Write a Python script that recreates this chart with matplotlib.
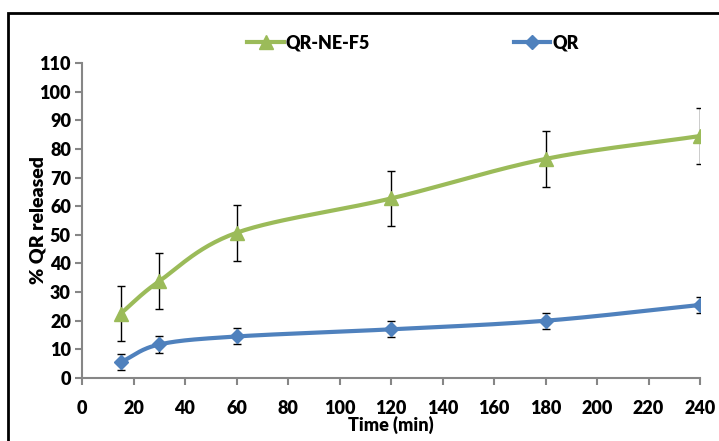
import matplotlib.pyplot as plt
import numpy as np
from matplotlib.patches import Rectangle

plt.rcParams['font.family'] = ['Lato', 'DejaVu Sans']
plt.rcParams['font.weight'] = 'bold'

time_min = [15, 30, 60, 120, 180, 240]
ne_f5 = [22.5, 33.8, 50.7, 62.7, 76.5, 84.5]
ne_f5_err = [9.7, 9.8, 9.8, 9.7, 9.8, 9.8]
qr = [5.5, 11.7, 14.5, 17.0, 20.0, 25.5]
qr_err = [2.8, 2.8, 2.8, 2.8, 2.8, 2.8]


def smooth(x, y, n=30):
    # Catmull-Rom curve through the points, like Excel's smoothed line
    x = np.asarray(x, float)
    y = np.asarray(y, float)
    px = np.concatenate([[2 * x[0] - x[1]], x, [2 * x[-1] - x[-2]]])
    py = np.concatenate([[2 * y[0] - y[1]], y, [2 * y[-1] - y[-2]]])
    xs, ys = [], []
    t = np.linspace(0, 1, n)
    for i in range(1, len(px) - 2):
        for p, out in ((px, xs), (py, ys)):
            p0, p1, p2, p3 = p[i - 1], p[i], p[i + 1], p[i + 2]
            out.extend(0.5 * ((2 * p1) + (-p0 + p2) * t
                              + (2 * p0 - 5 * p1 + 4 * p2 - p3) * t ** 2
                              + (-p0 + 3 * p1 - 3 * p2 + p3) * t ** 3))
    return np.array(xs), np.array(ys)


green = '#9BBB59'
blue = '#4F81BD'
grey = '#868686'
fs = 13

fig = plt.figure(figsize=(7.19, 4.41), dpi=100)
ax = fig.add_axes([82 / 719, 1 - 378 / 441, 618 / 719, 315 / 441])

for y, err, col, mk, ms, lab in ((ne_f5, ne_f5_err, green, '^', 10, 'QR-NE-F5'),
                                  (qr, qr_err, blue, 'D', 7.5, 'QR')):
    sx, sy = smooth(time_min, y)
    ax.plot(sx, sy, color=col, lw=3, solid_capstyle='round', zorder=2)
    ax.errorbar(time_min, y, yerr=err, fmt='none', ecolor='black',
                elinewidth=1, capsize=3, capthick=1, zorder=3)
    ax.plot(time_min, y, ls='none', marker=mk, ms=ms, color=col, zorder=4)
    ax.plot([], [], color=col, lw=3, marker=mk, ms=ms, label=lab)

ax.set_xlim(0, 240)
ax.set_ylim(0, 110)
ax.set_xticks(range(0, 241, 20))
ax.set_yticks(range(0, 111, 10))
for s in ('top', 'right'):
    ax.spines[s].set_visible(False)
for s in ('left', 'bottom'):
    ax.spines[s].set_color(grey)
    ax.spines[s].set_linewidth(1.5)
ax.tick_params(direction='out', length=5, width=1.5, color=grey,
               labelsize=fs, pad=3)
for lbl in ax.get_xticklabels() + ax.get_yticklabels():
    lbl.set_fontweight('heavy')
ax.tick_params(axis='x', pad=11)
ax.set_xlabel('Time (min)', fontsize=fs, fontweight='heavy', labelpad=-1)
ax.set_ylabel('% QR released', fontsize=fs + 1, fontweight='heavy', labelpad=-5)

h, l = ax.get_legend_handles_labels()
fig.legend(h, l, loc='center', bbox_to_anchor=(413 / 719, 1 - 43 / 441),
           ncol=2, frameon=False, columnspacing=8,
           handlelength=2, handletextpad=0.1, prop={'weight': 'heavy', 'size': fs})

fig.add_artist(Rectangle((8 / 719, -0.1), 1.2, 1.1 - 13 / 441,
                         transform=fig.transFigure, fill=False,
                         edgecolor='black', lw=2))

fig.savefig('out.png', dpi=100)
